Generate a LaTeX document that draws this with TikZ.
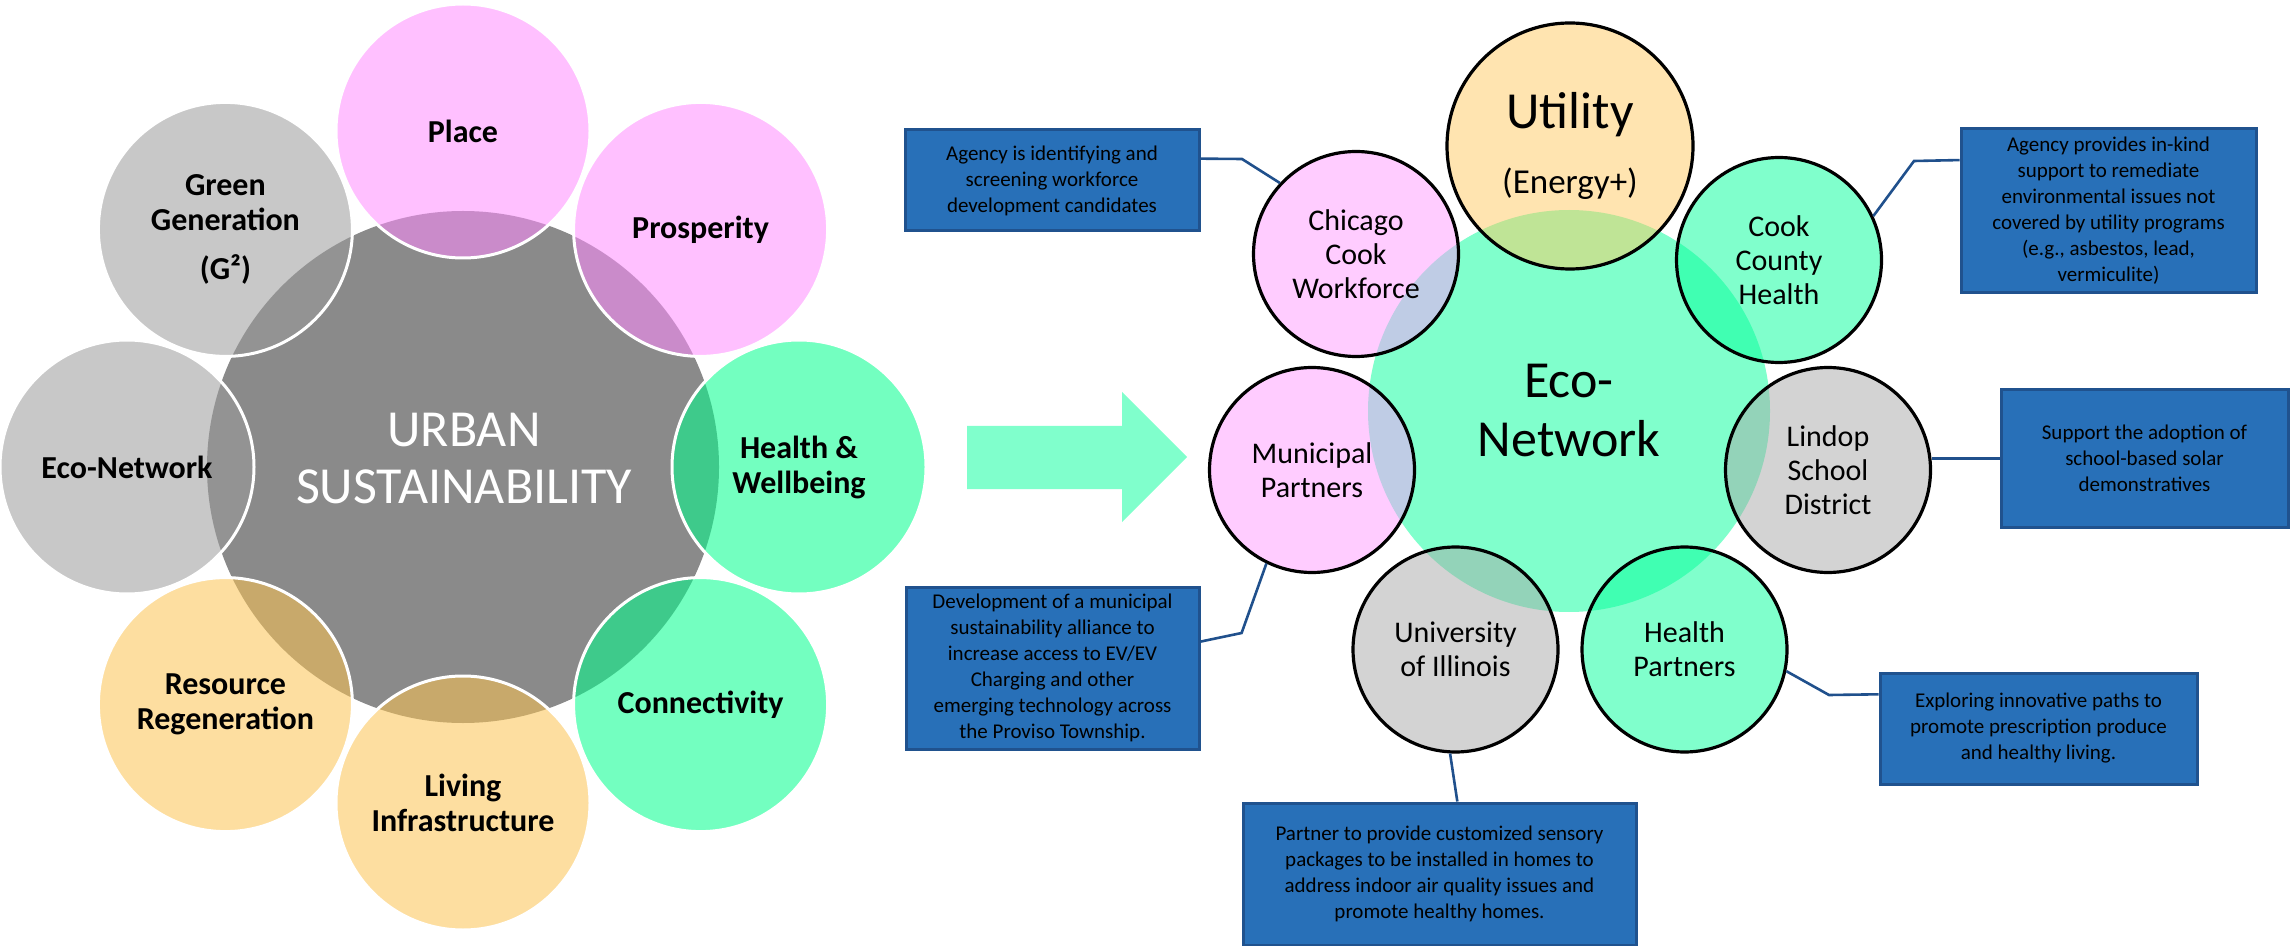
\documentclass[tikz,border=0pt]{standalone}
\usepackage{fontspec}
\setmainfont{Carlito}
\usetikzlibrary{calc}
\definecolor{lpink}{RGB}{255,140,255}
\definecolor{lgreen}{RGB}{0,255,140}
\definecolor{lgray}{RGB}{155,155,155}
\definecolor{lyellow}{RGB}{251,195,82}
\definecolor{centergray}{RGB}{138,138,138}
\definecolor{rpink}{RGB}{255,153,255}
\definecolor{rgreen}{RGB}{1,255,153}
\definecolor{rgray}{RGB}{167,167,167}
\definecolor{ryellow}{RGB}{255,201,97}
\definecolor{arrowgreen}{RGB}{128,255,204}
\definecolor{boxfill}{RGB}{40,112,184}
\definecolor{boxborder}{RGB}{32,82,142}
\definecolor{linkcol}{RGB}{32,80,140}
\begin{document}
\begin{tikzpicture}[x=0.5pt,y=-0.5pt,
  leftcirc/.style={circle, minimum size=127pt, inner sep=0pt, draw=white, line width=1.5pt,
    fill opacity=0.55, text opacity=1, align=center,
    font=\bfseries\fontsize{16}{17.5}\selectfont},
  rightcirc/.style={circle, minimum size=102.5pt, inner sep=0pt, draw=black, line width=1.6pt,
    fill opacity=0.5, text opacity=1, align=center,
    font=\fontsize{15}{17}\selectfont},
  infobox/.style={rectangle, draw=boxborder, fill=boxfill, line width=1.5pt, inner sep=0pt,
    align=center, font=\fontsize{10.5}{13}\selectfont},
  link/.style={draw=linkcol, line width=1.3pt}]
\useasboundingbox (0,0) rectangle (2291,946);

% ---------- left: urban sustainability ----------
\node[circle, minimum size=256pt, inner sep=0pt, fill=centergray] (urban) at (463,467) {};
\node[leftcirc, fill=lpink] (place) at (463,131) {Place};
\node[leftcirc, fill=lpink] (prosperity) at (700.6,229.4) {Prosperity};
\node[leftcirc, fill=lgreen] (health) at (799,467) {Health \&\\Wellbeing};
\node[leftcirc, fill=lgreen] (connect) at (700.6,704.6) {Connectivity};
\node[leftcirc, fill=lyellow] (living) at (463,803) {Living\\Infrastructure};
\node[leftcirc, fill=lyellow] (resource) at (225.4,704.6) {Resource\\Regeneration};
\node[leftcirc, fill=lgray] (econet) at (127,467) {Eco-Network};
\node[leftcirc, fill=lgray] (green) at (225.4,229.4) {Green\\Generation\\[7pt](G²)};
\node[text=white, align=center, font=\fontsize{26}{28.5}\selectfont] (urbantxt) at (464,459) {URBAN\\SUSTAINABILITY};

% ---------- arrow ----------
\fill[arrowgreen] (967,426) -- (1122,426) -- (1122,392) -- (1187,457) -- (1122,522) -- (1122,489) -- (967,489) -- cycle;

% ---------- right: eco-network ----------
\node[circle, minimum size=201pt, inner sep=0pt, fill=rgreen, fill opacity=0.5, text opacity=1,
  align=center, font=\fontsize{26}{29.5}\selectfont] (eco) at (1569,411) {Eco-\\Network};
\node[rightcirc, minimum size=123pt, fill=ryellow, font=\fontsize{26}{32.5}\selectfont] (utility) at (1570,146)
  {Utility\\{\fontsize{17.5}{21}\selectfont (Energy+)}};
\node[rightcirc, fill=rpink] (chicago) at (1356,254) {Chicago\\Cook\\Workforce};
\node[rightcirc, fill=rgreen] (cook) at (1779,260) {Cook\\County\\Health};
\node[rightcirc, fill=rgray] (lindop) at (1828,470) {Lindop\\School\\District};
\node[rightcirc, fill=rpink] (municipal) at (1312,470) {Municipal\\Partners};
\node[rightcirc, fill=rgray] (univ) at (1455.5,649.5) {University\\of Illinois};
\node[rightcirc, fill=rgreen] (healthp) at (1684.5,649.5) {Health\\Partners};

% ---------- info boxes ----------
\node[infobox, minimum width=147pt, minimum height=50.5pt] (cbox) at (1052,180.5)
  {Agency is identifying and\\screening workforce\\development candidates};
\node[infobox, minimum width=147.5pt, minimum height=82pt] (cookbox) at (2108.5,211)
  {Agency provides in-kind\\support to remediate\\environmental issues not\\covered by utility programs\\(e.g., asbestos, lead,\\vermiculite)};
\node[infobox, minimum width=143.5pt, minimum height=68.5pt] (lindopbox) at (2144.5,458.5)
  {Support the adoption of\\school-based solar\\demonstratives};
\node[infobox, minimum width=146.5pt, minimum height=81pt] (munibox) at (1052.5,668)
  {Development of a municipal\\sustainability alliance to\\increase access to EV/EV\\Charging and other\\emerging technology across\\the Proviso Township.};
\node[infobox, minimum width=158.5pt, minimum height=55.5pt] (hpbox) at (2038.5,728.5)
  {Exploring innovative paths to\\promote prescription produce\\and healthy living.};
\node[infobox, minimum width=196.5pt, minimum height=71pt] (univbox) at (1439.5,874)
  {Partner to provide customized sensory\\packages to be installed in homes to\\address indoor air quality issues and\\promote healthy homes.};

% ---------- connectors ----------
\coordinate (cbend) at (1242,159);
\coordinate (cookbend) at (1914,161);
\coordinate (munibend) at (1241.6,633);
\coordinate (hpbend) at (1829,695);
\draw[link] ($(cbox.north east)!0.29!(cbox.south east)$) -- (cbend) -- (chicago.137);
\draw[link] ($(cookbox.north west)!0.195!(cookbox.south west)$) -- (cookbend) -- (cook.25);
\draw[link] (lindopbox.west) -- (lindopbox.west -| lindop.east);
\draw[link] (municipal.244) -- (munibend) -- ($(munibox.north east)!0.34!(munibox.south east)$);
\draw[link] (univ.267) -- ($(univbox.north west)!0.545!(univbox.north east)$);
\draw[link] (healthp.-12) -- (hpbend) -- ($(hpbox.north west)!0.2!(hpbox.south west)$);
\end{tikzpicture}
\end{document}
